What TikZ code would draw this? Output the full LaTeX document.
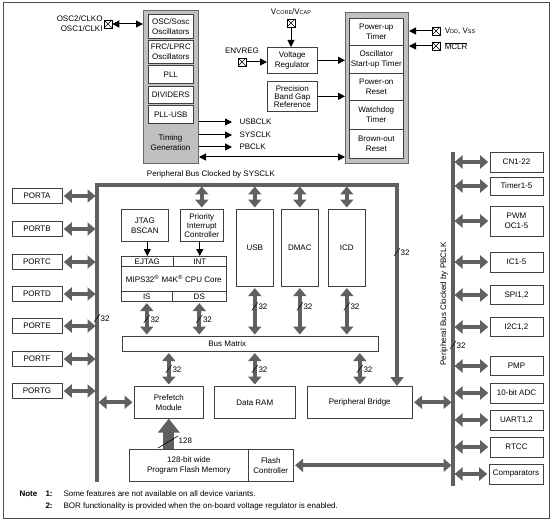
\documentclass[tikz,border=0pt]{standalone}
\usepackage{fontspec}
\setmainfont{Liberation Sans}
\usetikzlibrary{arrows.meta, calc, positioning}
\definecolor{busgray}{RGB}{96,96,96}
\definecolor{boxgray}{RGB}{192,192,192}
\newcommand{\vsub}[1]{{\fontsize{5.5}{6}\selectfont #1}}
\tikzset{
  blk/.style={draw=black!75, line width=0.6pt, fill=white, anchor=north west, inner sep=0pt, align=center},
  perbox/.style={draw=black!75, line width=0.6pt, fill=white, inner sep=0pt, align=center, minimum width=53pt},
  port/.style={perbox, minimum width=50pt, minimum height=15pt},
  grayblk/.style={draw=black!60, line width=1pt, fill=boxgray, anchor=north west, inner sep=0pt},
  iopin/.style={draw, line width=0.5pt, fill=white, minimum size=8pt, inner sep=0pt,
    path picture={\draw[line width=0.4pt] (path picture bounding box.north west) -- (path picture bounding box.south east)
      (path picture bounding box.south west) -- (path picture bounding box.north east);}},
  sig/.style={line width=1pt, -{Triangle[length=7pt,width=7pt]}},
  dsig/.style={line width=1pt, {Triangle[length=7pt,width=7pt]}-{Triangle[length=7pt,width=7pt]}},
  busline/.style={draw=busgray, line width=4pt},
  bus2/.style={draw=busgray, line width=4pt, {Triangle[length=8pt,width=13pt]}-{Triangle[length=8pt,width=13pt]}, shorten <=1.5pt, shorten >=1.5pt},
  blockarr/.style={draw=busgray, line width=11pt, -{Triangle[length=14pt,width=21pt]}},
  wl/.pic={
    \draw[black, line width=0.5pt] (-3,4) -- (3,-4);
    \node[right, inner sep=1pt] at (2.5,0.5) {#1};
  },
  wbig/.pic={
    \draw[black, line width=0.6pt] (-10,6) -- (10,-6);
    \node[right, inner sep=1pt] at (9.5,-1.5) {#1};
  }
}

\begin{document}
\begin{tikzpicture}[x=1pt, y=-1pt, every node/.style={font=\fontsize{8}{10}\selectfont}]
        \useasboundingbox (0,0) rectangle (553,521);
        \draw[black!70, line width=0.8pt] (3,2) rectangle (549,518);

        \node[grayblk, minimum width=55pt, minimum height=153pt] (clkblk) at (143,10) {};
        \node[blk, minimum width=45pt, minimum height=24pt] (osc) at (148,14) {OSC/Sosc\\Oscillators};
        \node[blk, minimum width=45pt, minimum height=23pt] (frc) at (148,40) {FRC/LPRC\\Oscillators};
        \node[blk, minimum width=45pt, minimum height=18pt] (pll) at (148,65) {PLL};
        \node[blk, minimum width=45pt, minimum height=17pt] (div) at (148,86) {DIVIDERS};
        \node[blk, minimum width=45pt, minimum height=18pt] (pllusb) at (148,105) {PLL-USB};
        \node[align=center] (tgen) at (170.5,143) {Timing\\Generation};

        \node[iopin] (oscpin) at (108,24) {};
        \node[align=right, anchor=east, inner sep=1pt] (osclbl) at (oscpin.west) {OSC2/CLKO\\OSC1/CLKI};
        \draw[dsig] (oscpin.east) -- (clkblk.west |- oscpin);

        \coordinate (usbclk) at (232,122);
        \coordinate (sysclk) at (232,135);
        \coordinate (pbclk) at (232,147);
        \coordinate (rstbus) at (300,157);
        \draw[sig] (clkblk.east |- usbclk) -- (usbclk) node[right=6pt, inner sep=1pt] {USBCLK};
        \draw[sig] (clkblk.east |- sysclk) -- (sysclk) node[right=6pt, inner sep=1pt] {SYSCLK};
        \draw[sig] (clkblk.east |- pbclk) -- (pbclk) node[right=6pt, inner sep=1pt] {PBCLK};

        \node[grayblk, minimum width=63pt, minimum height=151pt] (rstblk) at (345,12) {};
        \node[blk, minimum width=54pt, minimum height=27pt] (put) at (349,18) {Power-up\\Timer};
        \node[blk, minimum width=54pt, minimum height=28pt] (ost) at (349,45) {Oscillator\\Start-up Timer};
        \node[blk, minimum width=54pt, minimum height=27pt] (por) at (349,73) {Power-on\\Reset};
        \node[blk, minimum width=54pt, minimum height=29pt] (wdt) at (349,100) {Watchdog\\Timer};
        \node[blk, minimum width=54pt, minimum height=29pt] (bor) at (349,129) {Brown-out\\Reset};
        \draw[dsig] (clkblk.east |- rstbus) -- (rstblk.west |- rstbus);

        \node[iopin] (vcpin) at (291,23) {};
        \node[above=1pt of vcpin] (vclbl) {V\vsub{CORE}/V\vsub{CAP}};
        \node[blk, minimum width=50pt, minimum height=26pt] (vreg) at (267,47) {Voltage\\Regulator};
        \draw[sig] (vcpin.south) -- (vcpin.south |- vreg.north);
        \node[iopin] (envpin) at (242,62) {};
        \node[above=1pt of envpin] (envlbl) {ENVREG};
        \draw[sig] (envpin.east) -- (vreg.west |- envpin);
        \node[blk, minimum width=50pt, minimum height=30pt, font=\fontsize{8}{8}\selectfont] (pbgr) at (267,81) {Precision\\Band Gap\\Reference};
        \draw[sig] (vreg.east) -- (rstblk.west |- vreg.east);
        \draw[sig] (pbgr.east) -- (rstblk.west |- pbgr.east);

        \node[iopin] (vddpin) at (436,31) {};
        \node[right=1pt of vddpin] (vddlbl) {V\vsub{DD}, V\vsub{SS}};
        \draw[sig] (vddpin.west) -- (rstblk.east |- vddpin);
        \node[iopin] (mclrpin) at (436,46) {};
        \node[right=1pt of mclrpin] (mclrlbl) {$\overline{\mbox{MCLR}}$};
        \draw[sig] (mclrpin.west) -- (rstblk.east |- mclrpin);

        \coordinate (lbbot) at (97,482);
        \coordinate (lbtop) at (97,185);
        \coordinate (rbtop) at (397,185);
        \node (sysbus) at (211,174) {Peripheral Bus Clocked by SYSCLK};

        \node[port] (portA) at (37,196) {PORTA};
        \node[port] (portB) at (37,229) {PORTB};
        \node[port] (portC) at (37,262) {PORTC};
        \node[port] (portD) at (37,294) {PORTD};
        \node[port] (portE) at (37,326) {PORTE};
        \node[port] (portF) at (37,359) {PORTF};
        \node[port] (portG) at (37,391) {PORTG};
        \draw[bus2] (portA.east) -- (portA.east -| lbtop);
        \draw[bus2] (portB.east) -- (portB.east -| lbtop);
        \draw[bus2] (portC.east) -- (portC.east -| lbtop);
        \draw[bus2] (portD.east) -- (portD.east -| lbtop);
        \draw[bus2] (portE.east) -- (portE.east -| lbtop);
        \draw[bus2] (portF.east) -- (portF.east -| lbtop);
        \draw[bus2] (portG.east) -- (portG.east -| lbtop);

        \node[blk, minimum width=47pt, minimum height=32pt] (jtag) at (121,209) {JTAG\\BSCAN};
        \node[blk, minimum width=43pt, minimum height=32pt, font=\fontsize{8}{9}\selectfont] (pic) at (180,209) {Priority\\Interrupt\\Controller};
        \node[blk, minimum width=105pt, minimum height=45pt] (cpu) at (121,256) {MIPS32\textsuperscript{\textregistered} M4K\textsuperscript{\textregistered} CPU Core};
        \node[blk, minimum width=52pt, minimum height=10pt] (ejtag) at (121,256) {EJTAG};
        \node[blk, minimum width=53pt, minimum height=10pt] (intr) at (173,256) {INT};
        \node[blk, minimum width=51pt, minimum height=10pt] (isn) at (121,291) {IS};
        \node[blk, minimum width=54pt, minimum height=10pt] (dsn) at (172,291) {DS};
        \draw[sig] (ejtag.north |- jtag.south) -- (ejtag.north);
        \draw[sig] (intr.north |- pic.south) -- (intr.north);

        \node[blk, minimum width=37pt, minimum height=77pt] (usb) at (236,209) {USB};
        \node[blk, minimum width=37pt, minimum height=77pt] (dmac) at (281,209) {DMAC};
        \node[blk, minimum width=37pt, minimum height=77pt] (icd) at (328,209) {ICD};
        \draw[bus2] (pic.north |- lbtop) -- (pic.north);
        \draw[bus2] (usb.north |- lbtop) -- (usb.north);
        \draw[bus2] (dmac.north |- lbtop) -- (dmac.north);
        \draw[bus2] (icd.north |- lbtop) -- (icd.north);

        \node[blk, minimum width=256pt, minimum height=15pt] (bm) at (122,336) {};
        \node (bmtxt) at ([xshift=-23pt]bm.center) {Bus Matrix};
        \draw[bus2] (isn.south) -- (isn.south |- bm.north);
        \draw[bus2] (dsn.south) -- (dsn.south |- bm.north);
        \draw[bus2] (usb.south) -- (usb.south |- bm.north);
        \draw[bus2] (dmac.south) -- (dmac.south |- bm.north);
        \draw[bus2] (icd.south) -- (icd.south |- bm.north);
        \pic at ($(isn.south)!.5!(isn.south |- bm.north)$) {wl=32};
        \pic at ($(dsn.south)!.5!(dsn.south |- bm.north)$) {wl=32};
        \pic at ($(usb.south)!.4!(usb.south |- bm.north)$) {wl=32};
        \pic at ($(dmac.south)!.4!(dmac.south |- bm.north)$) {wl=32};
        \pic at ($(icd.south)!.4!(icd.south |- bm.north)$) {wl=32};

        \node[blk, minimum width=69pt, minimum height=32pt] (pfm) at (134,386) {Prefetch\\Module};
        \node[blk, minimum width=81pt, minimum height=32pt] (dram) at (214,386) {Data RAM};
        \node[blk, minimum width=105pt, minimum height=32pt] (pbr) at (307,386) {Peripheral Bridge};
        \draw[bus2] (pfm.north |- bm.south) -- (pfm.north);
        \draw[bus2] (dram.north |- bm.south) -- (dram.north);
        \draw[bus2] (pbr.north |- bm.south) -- (pbr.north);
        \pic at ($(pfm.north |- bm.south)!.5!(pfm.north)$) {wl=32};
        \pic at ($(dram.north |- bm.south)!.5!(dram.north)$) {wl=32};
        \pic at ($(pbr.north |- bm.south)!.5!(pbr.north)$) {wl=32};

        \draw[busline, -{Triangle[length=9pt,width=13pt]}] (lbbot) -- (lbtop) -- (rbtop) -- (rbtop |- pbr.north);
        \pic at (97,318) {wl=32};
        \pic at (397,252) {wl=32};
        \draw[bus2] (lbtop |- pfm.west) -- (pfm.west);

        \node[blk, minimum width=119pt, minimum height=32pt] (pfmem) at (129,449) {128-bit wide\\Program Flash Memory};
        \node[blk, minimum width=45pt, minimum height=32pt] (fctl) at (248,449) {Flash\\Controller};
        \draw[blockarr] (pfm.south |- pfmem.north) -- (pfm.south);
        \pic at (168,442) {wbig=128};

        \coordinate (pbtop) at (453,152);
        \coordinate (pbbot) at (453,486);
        \draw[busline] (pbtop) -- (pbbot);
        \node[rotate=90] (pblbl) at (444,304) {Peripheral Bus Clocked by PBCLK};
        \pic at (453,345) {wl=32};
        \draw[bus2] (pbr.east) -- (pbr.east -| pbtop);
        \draw[bus2] (fctl.east) -- (fctl.east -| pbtop);

        \node[perbox, minimum height=20pt] (cn) at (516.5,162) {CN1-22};
        \node[perbox, minimum height=18pt] (tmr) at (516.5,186) {Timer1-5};
        \node[perbox, minimum height=30pt] (pwm) at (516.5,221) {PWM\\OC1-5};
        \node[perbox, minimum height=20pt] (ic) at (516.5,262) {IC1-5};
        \node[perbox, minimum height=19pt] (spi) at (516.5,295) {SPI1,2};
        \node[perbox, minimum height=19pt] (i2c) at (516.5,327) {I2C1,2};
        \node[perbox, minimum height=19pt] (pmp) at (516.5,366) {PMP};
        \node[perbox, minimum height=20pt] (adc) at (516.5,393) {10-bit ADC};
        \node[perbox, minimum height=20pt] (uart) at (516.5,420) {UART1,2};
        \node[perbox, minimum height=20pt] (rtcc) at (516.5,447) {RTCC};
        \node[perbox, minimum height=20pt, minimum width=54pt] (cmp) at (516,474) {Comparators};
        \draw[bus2] (pbtop |- cn.west) -- (cn.west);
        \draw[bus2] (pbtop |- tmr.west) -- (tmr.west);
        \draw[bus2] (pbtop |- pwm.west) -- (pwm.west);
        \draw[bus2] (pbtop |- ic.west) -- (ic.west);
        \draw[bus2] (pbtop |- spi.west) -- (spi.west);
        \draw[bus2] (pbtop |- i2c.west) -- (i2c.west);
        \draw[bus2] (pbtop |- pmp.west) -- (pmp.west);
        \draw[bus2] (pbtop |- adc.west) -- (adc.west);
        \draw[bus2] (pbtop |- uart.west) -- (uart.west);
        \draw[bus2] (pbtop |- rtcc.west) -- (rtcc.west);
        \draw[bus2] (pbtop |- cmp.west) -- (cmp.west);

        \node[anchor=west, font=\fontsize{8}{10}\selectfont\bfseries] (note) at (16,494) {Note};
        \node[anchor=west, font=\fontsize{8}{10}\selectfont\bfseries] (n1) at (42,494) {1:};
        \node[anchor=west] (t1) at (60,494) {Some features are not available on all device variants.};
        \node[anchor=west, font=\fontsize{8}{10}\selectfont\bfseries] (n2) at (42,506) {2:};
        \node[anchor=west] (t2) at (60,506) {BOR functionality is provided when the on-board voltage regulator is enabled.};
\end{tikzpicture}
\end{document}
